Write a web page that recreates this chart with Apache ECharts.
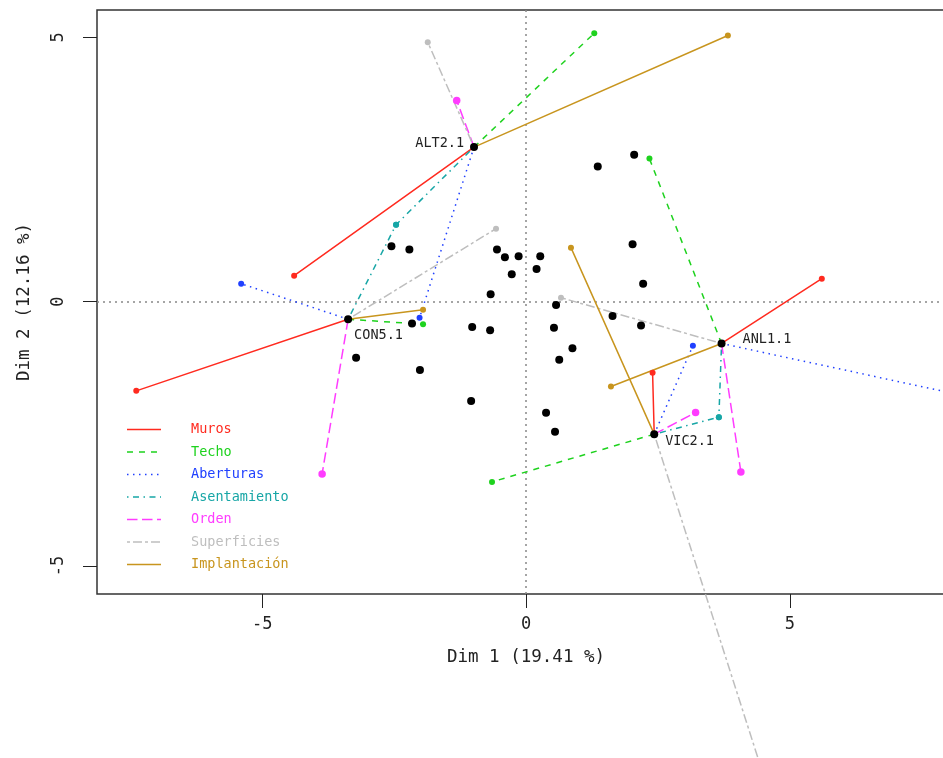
<!DOCTYPE html>
<html>
<head>
<meta charset="utf-8">
<script src="https://cdn.jsdelivr.net/npm/echarts@6/dist/echarts.min.js"></script>
<style>html,body{margin:0;padding:0;background:#fff;overflow:hidden}#c{width:943px;height:758px}</style>
</head>
<body>
<div id="c"></div>
<script>
// ---- data ----
const groups = ['Muros', 'Techo', 'Aberturas', 'Asentamiento', 'Orden', 'Superficies', 'Implantación'];
const individuals = ['ALT2.1', 'CON5.1', 'ANL1.1', 'VIC2.1'];
const indX = [-0.985, -3.371, 3.706, 2.430];
const indY = [2.926, -0.331, -0.790, -2.506];

// partial points (same order as individuals)
const murosX = [-4.394, -7.386, 5.606, 2.399];
const murosY = [0.492, -1.686, 0.436, -1.345];
const techoX = [1.294, -1.951, 2.339, -0.644];
const techoY = [5.081, -0.426, 2.708, -3.409];
const aberturasX = [-2.017, -5.398, 10.40, 3.163];
const aberturasY = [-0.303, 0.341, -2.230, -0.833];
const asentamientoX = [-2.462, -2.462, 3.655, 3.655];
const asentamientoY = [1.458, 1.458, -2.184, -2.184];
const ordenX = [-1.313, -3.864, 4.072, 3.214];
const ordenY = [3.807, -3.258, -3.220, -2.097];
const superficiesX = [-1.862, -0.568, 0.663, 4.770];
const superficiesY = [4.911, 1.383, 0.076, -9.800];
const implantacionX = [3.826, -1.951, 1.610, 0.852];
const implantacionY = [5.038, -0.152, -1.604, 1.023];

// remaining individuals
const otherX = [-2.55, -2.21, -0.55, -0.40, -0.14, 0.27, -0.27, 0.20, -0.67, 0.57,
                2.05, 1.36, 2.02, 2.22, 1.64, 2.18, -0.68, 0.53, 0.88, 0.63,
                0.38, 0.55, -2.16, -1.02, -3.22, -2.01, -1.04];
const otherY = [1.05, 0.99, 0.99, 0.84, 0.86, 0.86, 0.52, 0.62, 0.14, -0.06,
                2.78, 2.56, 1.09, 0.34, -0.27, -0.45, -0.54, -0.49, -0.88, -1.10,
                -2.10, -2.46, -0.41, -0.48, -1.06, -1.29, -1.88];

const xTicks = [-5, 0, 5];
const yTicks = [-5, 0, 5];
const xTitle = 'Dim 1 (19.41 %)';
const yTitle = 'Dim 2 (12.16 %)';

// ---- styles ----
const partialX = [murosX, techoX, aberturasX, asentamientoX, ordenX, superficiesX, implantacionX];
const partialY = [murosY, techoY, aberturasY, asentamientoY, ordenY, superficiesY, implantacionY];
const colors = ['#FF2A1F', '#1ED21E', '#2040FF', '#17A6A6', '#FF3CFF', '#BEBEBE', '#C8951E'];
const dashes = ['solid', [6, 6], [1.5, 4.5], [1.5, 4.5, 6, 4.5], [10.5, 4.5], [3, 3, 9, 3], 'solid'];
const symSizes = [6, 6, 6, 6, 7.5, 6, 6];
const FONT = '"DejaVu Sans Mono", monospace';
const labelPlace = [
  {position: 'left', distance: 6, offset: [0, -4]},
  {position: 'right', distance: 2, offset: [0, 16]},
  {position: 'right', distance: 17, offset: [0, -4]},
  {position: 'right', distance: 7, offset: [0, 7]}
];

const series = [];
groups.forEach((g, gi) => {
  const data = [];
  individuals.forEach((ind, i) => {
    data.push({value: [indX[i], indY[i]], symbol: 'none'});
    data.push({value: [partialX[gi][i], partialY[gi][i]]});
    data.push(['-', '-']);
  });
  series.push({
    name: g,
    type: 'line',
    data: data,
    clip: false,
    connectNulls: false,
    symbol: 'circle',
    symbolSize: symSizes[gi],
    showAllSymbol: true,
    lineStyle: {color: colors[gi], width: 1.5, type: dashes[gi], cap: 'butt'},
    itemStyle: {color: colors[gi], borderWidth: 0, opacity: 1},
    z: 3,
    silent: true
  });
});

series.push({
  name: 'others',
  type: 'scatter',
  data: otherX.map((x, i) => [x, otherY[i]]),
  symbolSize: 8,
  itemStyle: {color: '#000', opacity: 1},
  z: 5,
  markLine: {
    silent: true,
    symbol: ['none', 'none'],
    label: {show: false},
    lineStyle: {color: '#888', type: [2, 4], width: 1.5},
    data: [{xAxis: 0}, {yAxis: 0}],
    z: 1
  }
});

series.push({
  name: 'individuals',
  type: 'scatter',
  data: individuals.map((n, i) => ({
    value: [indX[i], indY[i]],
    name: n,
    label: Object.assign({show: true, formatter: n}, labelPlace[i])
  })),
  symbolSize: 8,
  itemStyle: {color: '#000', opacity: 1},
  label: {color: '#222', fontFamily: FONT, fontSize: 13.5},
  z: 6
});

const graphic = [];
groups.forEach((g, gi) => {
  const y = 429.5 + gi * 22.5;
  graphic.push({
    type: 'line', shape: {x1: 127, y1: y, x2: 161, y2: y},
    style: {stroke: colors[gi], lineWidth: 1.5, lineDash: dashes[gi] === 'solid' ? null : dashes[gi]},
    z: 10
  });
  graphic.push({
    type: 'text', x: 191, y: y,
    style: {text: g, fill: colors[gi], font: '13.5px ' + FONT, verticalAlign: 'middle', align: 'left'},
    z: 10
  });
});

const chart = echarts.init(document.getElementById('c'), null, {renderer: 'canvas'});
chart.setOption({
  animation: false,
  backgroundColor: '#fff',
  grid: {left: 97, top: 10, width: 858, bottom: 164, show: true, borderColor: '#333', borderWidth: 1.5,
         backgroundColor: 'transparent', containLabel: false, outerBoundsMode: 'none'},
  xAxis: {
    type: 'value', min: -8.13, max: 8.13,
    name: xTitle, nameLocation: 'middle', nameGap: 54,
    nameTextStyle: {fontFamily: FONT, fontSize: 17.5, color: '#222'},
    axisLine: {show: false, onZero: false},
    splitLine: {show: false},
    axisTick: {show: true, length: 14, customValues: xTicks, lineStyle: {color: '#222', width: 1}},
    axisLabel: {customValues: xTicks, margin: 22, fontFamily: FONT, fontSize: 17, color: '#222', formatter: v => String(v)}
  },
  yAxis: {
    type: 'value', min: -5.53, max: 5.52,
    name: yTitle, nameLocation: 'middle', nameGap: 64, nameRotate: 90,
    nameTextStyle: {fontFamily: FONT, fontSize: 17.5, color: '#222'},
    axisLine: {show: false, onZero: false},
    splitLine: {show: false},
    axisTick: {show: true, length: 14, customValues: yTicks, lineStyle: {color: '#222', width: 1}},
    axisLabel: {customValues: yTicks, rotate: 90, margin: 30, fontFamily: FONT, fontSize: 17, color: '#222', formatter: v => String(v)}
  },
  series: series,
  graphic: graphic
});
</script>
</body>
</html>
